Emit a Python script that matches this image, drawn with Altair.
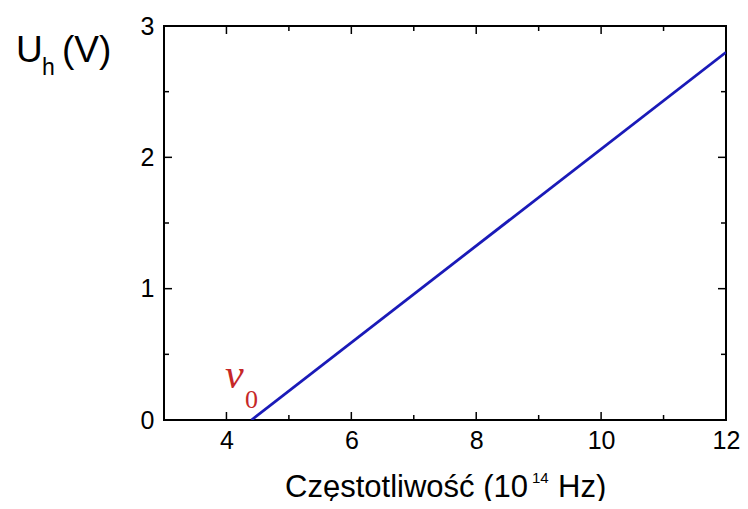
import altair as alt
import pandas as pd

# Data
freq = [4.4, 12.0]          # 10^14 Hz
u_h = [0.0, 2.8]            # V
x_major = [4, 6, 8, 10, 12]
x_minor = [5, 7, 9, 11]
y_major = [0, 1, 2, 3]
y_minor = [0.5, 1.5, 2.5]

W, H = 562, 394
FONT = "Liberation Sans"
XDOM = [3, 12]
YDOM = [0, 3]

line_df = pd.DataFrame({"f": freq, "u": u_h})
xM = pd.DataFrame({"f": x_major})
xm = pd.DataFrame({"f": x_minor})
yM = pd.DataFrame({"u": y_major})
ym = pd.DataFrame({"u": y_minor})

xscale = alt.Scale(domain=XDOM, nice=False, zero=False)
yscale = alt.Scale(domain=YDOM, nice=False, zero=False)

xaxis = alt.Axis(values=x_major, ticks=False, tickSize=0, domain=False, grid=False, title=None,
                 labelFontSize=25, labelFont=FONT, labelColor="black", labelPadding=8,
                 labelFlush=False, labelOverlap=False, format="d")
yaxis = alt.Axis(values=y_major, ticks=False, tickSize=0, domain=False, grid=False, title=None,
                 labelFontSize=25, labelFont=FONT, labelColor="black", labelPadding=10,
                 labelFlush=False, labelOverlap=False, format="d")

line = alt.Chart(line_df).mark_line(color="#1a1ab8", strokeWidth=2.8, clip=True).encode(
    x=alt.X("f:Q", scale=xscale, axis=xaxis),
    y=alt.Y("u:Q", scale=yscale, axis=yaxis),
)

def xticks(df, y0, y1):
    return alt.Chart(df).mark_rule(color="black", strokeWidth=1.5).encode(
        x=alt.X("f:Q", scale=xscale, axis=xaxis), y=alt.value(y0), y2=alt.value(y1))

def yticks(df, x0, x1):
    return alt.Chart(df).mark_rule(color="black", strokeWidth=1.5).encode(
        y=alt.Y("u:Q", scale=yscale, axis=yaxis), x=alt.value(x0), x2=alt.value(x1))

ticks = [
    xticks(xM, H, H - 8), xticks(xm, H, H - 5),
    xticks(xM, 0, 8), xticks(xm, 0, 5),
    yticks(yM, 0, 8), yticks(ym, 0, 5),
    yticks(yM, W, W - 8), yticks(ym, W, W - 5),
]

def label(text, x, y, size, font=FONT, color="black", style="normal", align="left"):
    return alt.Chart(pd.DataFrame({"t": [text]})).mark_text(
        font=font, fontSize=size, color=color, fontStyle=style, align=align,
        baseline="alphabetic").encode(text="t:N", x=alt.value(x), y=alt.value(y))

texts = [
    label("U", -148, 36, 37),
    label("h", -122, 49, 23),
    label("(V)", -102, 36, 37),
    label("Częstotliwość (10", 364, 471, 31, align="right"),
    label("14", 368, 457, 15),
    label("Hz)", 394, 471, 31),
    label("ν", 61, 362, 42, font="Liberation Serif", color="#c62828", style="italic"),
    label("0", 81, 382, 26, font="Liberation Serif", color="#c62828"),
]

chart = alt.layer(line, *ticks, *texts).properties(
    width=W, height=H,
    background="white",
    autosize=alt.AutoSizeParams(type="none"),
    padding={"left": 156, "top": 18, "right": 14, "bottom": 81},
).configure_view(stroke="black", strokeWidth=2)

chart.save("out.html", embed_options={"renderer": "svg", "actions": False})
